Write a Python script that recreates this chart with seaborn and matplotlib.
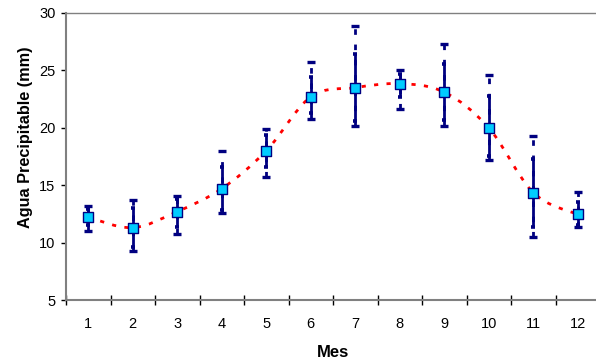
import numpy as np
import matplotlib
matplotlib.use('Agg')
import matplotlib.pyplot as plt
from matplotlib.path import Path
from matplotlib.patches import PathPatch
import seaborn as sns
import pandas as pd

# ---- data ----
meses = [1, 2, 3, 4, 5, 6, 7, 8, 9, 10, 11, 12]
media = [12.2, 11.3, 12.7, 14.7, 18.0, 22.7, 23.5, 23.85, 23.1, 20.0, 14.35, 12.45]
inner_hi = [12.9, 13.0, 13.8, 16.6, 19.4, 24.45, 26.4, 24.7, 25.6, 22.8, 17.25, 13.5]
inner_lo = [11.5, 9.6, 11.4, 12.8, 16.55, 21.25, 20.6, 22.65, 20.7, 17.55, 11.35, 11.5]
outer_hi = [13.2, 13.75, 14.05, 18.0, 19.9, 25.7, 28.9, 25.0, 27.3, 24.6, 19.3, 14.4]
outer_lo = [11.05, 9.3, 10.75, 12.55, 15.7, 20.75, 20.15, 21.65, 20.2, 17.2, 10.45, 11.4]
yticks = [5, 10, 15, 20, 25, 30]

df = pd.DataFrame({"Mes": meses, "Agua": media})

sns.set_style("white")
plt.rcParams['font.family'] = ['Liberation Sans', 'DejaVu Sans']
plt.rcParams['text.color'] = 'black'
plt.rcParams['axes.labelcolor'] = 'black'
plt.rcParams['xtick.color'] = 'black'
plt.rcParams['ytick.color'] = 'black'

fig = plt.figure(figsize=(5.96, 3.62), dpi=100)
ax = fig.add_axes([66 / 596, 62 / 362, 534 / 596, 287 / 362])

navy = '#000080'
x = np.array(meses, dtype=float)
m = np.array(media)

# smoothed red dotted line (Bezier through the means)
verts = [(x[0], m[0])]
codes = [Path.MOVETO]
n = len(x)
for i in range(n - 1):
    p0 = np.array([x[max(i - 1, 0)], m[max(i - 1, 0)]])
    p1 = np.array([x[i], m[i]])
    p2 = np.array([x[i + 1], m[i + 1]])
    p3 = np.array([x[min(i + 2, n - 1)], m[min(i + 2, n - 1)]])
    c1 = p1 + (p2 - p0) / 6.0
    c2 = p2 - (p3 - p1) / 6.0
    verts += [tuple(c1), tuple(c2), tuple(p2)]
    codes += [Path.CURVE4] * 3
patch = PathPatch(Path(verts, codes), facecolor='none', edgecolor='#FF0000',
                  linewidth=2.0, linestyle=(0, (1.5, 3.0)), zorder=2)
ax.add_patch(patch)

# outer (dashed) error bars
eb_o = ax.errorbar(x, m, yerr=[m - np.array(outer_lo), np.array(outer_hi) - m],
                   fmt='none', ecolor=navy, elinewidth=2.0, capsize=2.6,
                   capthick=2.4, zorder=3)
for lc in eb_o.lines[2]:
    lc.set_linestyle((0, (2.0, 3.5)))
# inner (solid) error bars
ax.errorbar(x, m, yerr=[m - np.array(inner_lo), np.array(inner_hi) - m],
            fmt='none', ecolor=navy, elinewidth=2.0, capsize=1.5,
            capthick=2.6, zorder=4)

sns.scatterplot(data=df, x="Mes", y="Agua", marker='s', s=58, color='#00CCFF',
                edgecolor=navy, linewidth=1.0, zorder=5, ax=ax)

ax.set_xlim(0.5, 12.5)
ax.set_ylim(5, 30)
ax.set_yticks(yticks)
ax.set_yticklabels([str(v) for v in yticks], fontsize=10.5)
ax.set_xticks(np.arange(0.5, 13, 1.0))
ax.set_xticklabels([])
ax.set_xticks(x, minor=True)
ax.set_xticklabels([str(v) for v in meses], minor=True, fontsize=10.5)
ax.tick_params(axis='x', which='major', bottom=True, direction='inout',
               length=7, width=1, color='#000000')
ax.tick_params(axis='x', which='minor', bottom=True, length=0, pad=12)
ax.tick_params(axis='y', left=True, direction='out', length=3.5, width=1,
               color='#000000', pad=4)

for s in ['left', 'bottom', 'top']:
    ax.spines[s].set_visible(True)
    ax.spines[s].set_color('#808080')
    ax.spines[s].set_linewidth(1.5)
ax.spines['top'].set_linewidth(1.0)
ax.spines['right'].set_visible(False)

ax.set_xlabel('Mes', fontsize=12, fontweight='bold')
ax.set_ylabel('Agua Precipitable (mm)', fontsize=11.7, fontweight='bold')
ax.xaxis.set_label_coords(0.5, -45 / 287)
ax.yaxis.set_label_coords(-33 / 534, (300 - 137.5) / 287)

fig.savefig('out.png', dpi=100)
